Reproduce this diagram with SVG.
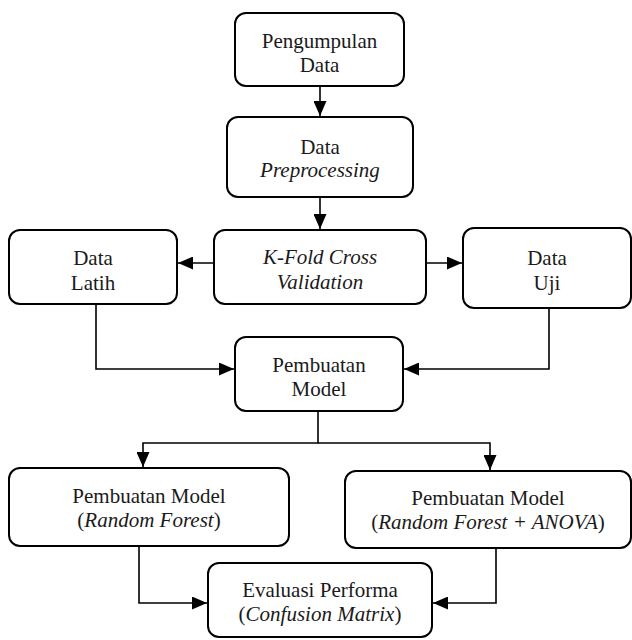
<svg xmlns="http://www.w3.org/2000/svg" width="632" height="640" viewBox="0 0 632 640">
<style>
.box{fill:#fff;stroke:#000;stroke-width:2}
.c{fill:none;stroke:#000;stroke-width:1.6}
</style>
<defs>
<marker id="ah" markerUnits="userSpaceOnUse" markerWidth="15" markerHeight="13" refX="15" refY="6.5" orient="auto">
<path d="M0,0 L15,6.5 L0,13 z" fill="#000"/>
</marker>
</defs>
<rect width="632" height="640" fill="#fff"/>
<g id="connectors">
<path class="c" d="M320,86 V116" marker-end="url(#ah)"/>
<path class="c" d="M320,197 V229" marker-end="url(#ah)"/>
<path class="c" d="M214,263 H178" marker-end="url(#ah)"/>
<path class="c" d="M426,263 H462" marker-end="url(#ah)"/>
<path class="c" d="M96,304 V369 H234" marker-end="url(#ah)"/>
<path class="c" d="M549,308 V369 H404" marker-end="url(#ah)"/>
<path class="c" d="M318,411 V443 H143 V467" marker-end="url(#ah)"/>
<path class="c" d="M318,443 H490 V470" marker-end="url(#ah)"/>
<path class="c" d="M139,546 V603 H207" marker-end="url(#ah)"/>
<path class="c" d="M496,548 V603 H433" marker-end="url(#ah)"/>
</g>
<g id="n1">
<rect class="box" x="235" y="13" width="169" height="73" rx="11"/>
<text font-family="Liberation Serif" font-size="21" fill="#1a1a1a" text-anchor="middle" x="319.5" y="48">Pengumpulan</text>
<text font-family="Liberation Serif" font-size="21" fill="#1a1a1a" text-anchor="middle" x="319.5" y="72">Data</text>
</g>
<g id="n2">
<rect class="box" x="227" y="117" width="186" height="80" rx="11"/>
<text font-family="Liberation Serif" font-size="21" fill="#1a1a1a" text-anchor="middle" x="320" y="154">Data</text>
<text font-family="Liberation Serif" font-size="21" fill="#1a1a1a" text-anchor="middle" font-style="italic" x="320" y="177">Preprocessing</text>
</g>
<g id="n3">
<rect class="box" x="9" y="230" width="168" height="74" rx="11"/>
<text font-family="Liberation Serif" font-size="21" fill="#1a1a1a" text-anchor="middle" x="93" y="265">Data</text>
<text font-family="Liberation Serif" font-size="21" fill="#1a1a1a" text-anchor="middle" x="93" y="290">Latih</text>
</g>
<g id="n4">
<rect class="box" x="214" y="230" width="212" height="74" rx="11"/>
<text font-family="Liberation Serif" font-size="21" fill="#1a1a1a" text-anchor="middle" font-style="italic" x="320" y="264">K-Fold Cross</text>
<text font-family="Liberation Serif" font-size="21" fill="#1a1a1a" text-anchor="middle" font-style="italic" x="320" y="289">Validation</text>
</g>
<g id="n5">
<rect class="box" x="463" y="228" width="168" height="80" rx="11"/>
<text font-family="Liberation Serif" font-size="21" fill="#1a1a1a" text-anchor="middle" x="547" y="265">Data</text>
<text font-family="Liberation Serif" font-size="21" fill="#1a1a1a" text-anchor="middle" x="547" y="290">Uji</text>
</g>
<g id="n6">
<rect class="box" x="235" y="337" width="168" height="74" rx="11"/>
<text font-family="Liberation Serif" font-size="21" fill="#1a1a1a" text-anchor="middle" x="319" y="372">Pembuatan</text>
<text font-family="Liberation Serif" font-size="21" fill="#1a1a1a" text-anchor="middle" x="319" y="396">Model</text>
</g>
<g id="n7">
<rect class="box" x="9" y="468" width="280" height="78" rx="11"/>
<text font-family="Liberation Serif" font-size="21" fill="#1a1a1a" text-anchor="middle" x="149" y="503">Pembuatan Model</text>
<text font-family="Liberation Serif" font-size="21" fill="#1a1a1a" text-anchor="middle" x="149" y="527">(<tspan font-style="italic">Random Forest</tspan>)</text>
</g>
<g id="n8">
<rect class="box" x="345" y="471" width="286" height="77" rx="11"/>
<text font-family="Liberation Serif" font-size="21" fill="#1a1a1a" text-anchor="middle" x="488" y="505">Pembuatan Model</text>
<text font-family="Liberation Serif" font-size="21" fill="#1a1a1a" text-anchor="middle" x="488" y="529">(<tspan font-style="italic">Random Forest + ANOVA</tspan>)</text>
</g>
<g id="n9">
<rect class="box" x="208" y="563" width="224" height="74" rx="11"/>
<text font-family="Liberation Serif" font-size="21" fill="#1a1a1a" text-anchor="middle" x="320" y="597">Evaluasi Performa</text>
<text font-family="Liberation Serif" font-size="21" fill="#1a1a1a" text-anchor="middle" x="320" y="621">(<tspan font-style="italic">Confusion Matrix</tspan>)</text>
</g>
</svg>
